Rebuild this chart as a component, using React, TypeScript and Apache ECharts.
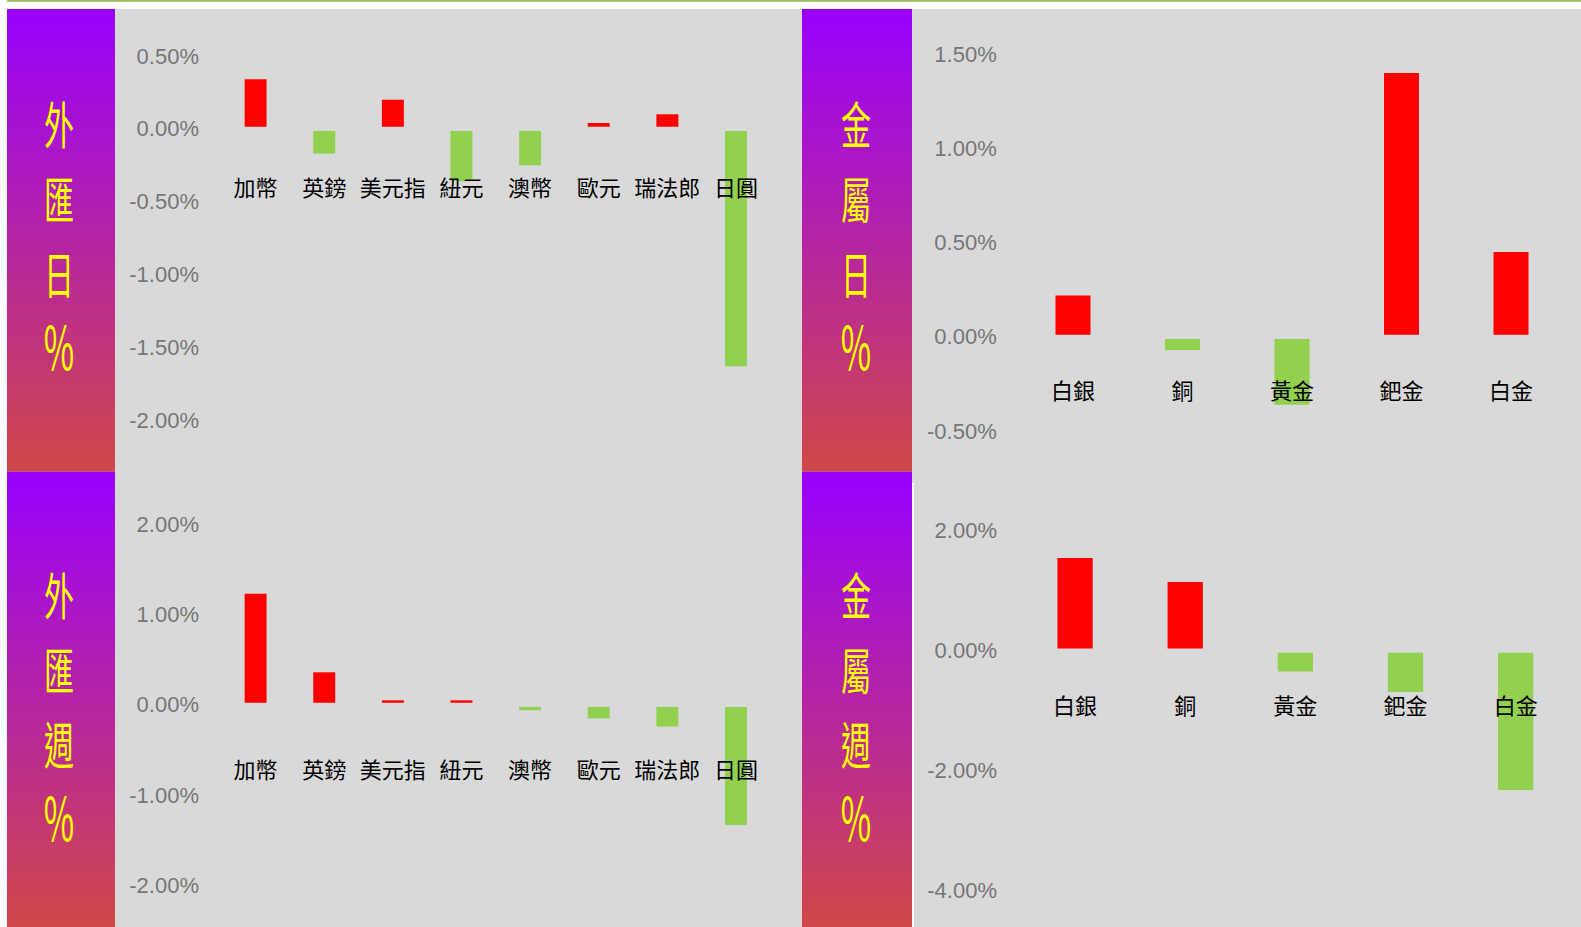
import React, { useEffect, useRef } from "react";
import * as echarts from "echarts";

// ---------- data ----------
const fxCategories = ["加幣", "英鎊", "美元指", "紐元", "澳幣", "歐元", "瑞法郎", "日圓"];
const fxDaily = [0.34, -0.17, 0.2, -0.36, -0.25, 0.04, 0.1, -1.63];
const fxWeekly = [1.23, 0.36, 0.05, 0.05, -0.06, -0.15, -0.24, -1.33];

const metalCategories = ["白銀", "銅", "黃金", "鈀金", "白金"];
const metalDaily = [0.22, -0.07, -0.36, 1.4, 0.45];
const metalWeekly = [1.54, 1.14, -0.35, -0.69, -2.32];

const panelTitles = [
  ["外", "匯", "日", "%"],
  ["金", "屬", "日", "%"],
  ["外", "匯", "週", "%"],
  ["金", "屬", "週", "%"],
];

// axis ranges [min, max, interval]
const fxDailyAxis = [-2, 0.5, 0.5];
const metalDailyAxis = [-0.5, 1.5, 0.5];
const fxWeeklyAxis = [-2, 2, 1];
const metalWeeklyAxis = [-4, 2, 2];

const RED = "#ff0000";
const GREEN = "#92d050";
const GAP_HALF = 2.1;

const W = 1581;
const H = 927;

function barRender(params: any, api: any) {
  const cat = api.value(0);
  const v = api.value(1);
  const base = api.coord([cat, 0]);
  const end = api.coord([cat, v]);
  const bw = api.size([1, 0])[0] * 0.32;
  let y0: number, y1: number;
  if (v >= 0) {
    y0 = end[1];
    y1 = base[1] - GAP_HALF;
  } else {
    y0 = base[1] + GAP_HALF;
    y1 = end[1];
  }
  return {
    type: "rect",
    shape: { x: base[0] - bw / 2, y: y0, width: bw, height: Math.max(0, y1 - y0) },
    style: { fill: v >= 0 ? RED : GREEN },
  };
}

const gradient = () =>
  new echarts.graphic.LinearGradient(0, 0, 0, 1, [
    { offset: 0, color: "#9900ff" },
    { offset: 1, color: "#d04848" },
  ]);

export default function App() {
  const ref = useRef<HTMLDivElement>(null);

  useEffect(() => {
    if (!ref.current) return;
    const chart = echarts.init(ref.current, undefined, { renderer: "svg" });

    const grids = [
      { left: 221.3, top: 56.0, width: 549, height: 364.25 },
      { left: 1018.25, top: 54.1, width: 547.5, height: 377.0 },
      { left: 221.3, top: 524.05, width: 549, height: 361.6 },
      { left: 1020, top: 530.4, width: 550.7, height: 360.4 },
    ];
    const axes = [fxDailyAxis, metalDailyAxis, fxWeeklyAxis, metalWeeklyAxis];
    const cats = [fxCategories, metalCategories, fxCategories, metalCategories];
    const datas = [fxDaily, metalDaily, fxWeekly, metalWeekly];
    const yMargins = [22.3, 21.5, 22.3, 23];
    const yPads = [
      [0, 0, 6.4, 0],
      [0, 0, 8.7, 0],
      [2.3, 0, 0, 0],
      [0, 0, 9.8, 0],
    ];
    // category labels sit below the zero line; measured from the grid's bottom edge
    const labelCenters = [186, 389, 767.5, 704];
    const xMargins = grids.map((g, i) => labelCenters[i] - (g.top + g.height));

    const graphics: any[] = [
      { type: "rect", shape: { x: 7, y: 0, width: W - 7, height: 1.7 }, style: { fill: "#9bbb59" }, z: -10 },
      { type: "rect", shape: { x: 7, y: 9, width: W - 7, height: H - 9 }, style: { fill: "#d9d9d9" }, z: -10 },
    ];
    const bars = [
      { x: 7, y: 9, w: 108, h: 462.7 },
      { x: 802, y: 9, w: 110, h: 462.7 },
      { x: 7, y: 471.7, w: 108, h: H - 471.7 },
      { x: 802, y: 471.7, w: 110, h: H - 471.7 },
    ];
    const charX = [59, 856, 59, 856];
    const charYs = [
      [122.5, 197.3, 271.7, 344],
      [122.5, 197.3, 271.7, 344],
      [593.3, 668.3, 742, 815],
      [593.3, 668.3, 742, 815],
    ];
    bars.forEach((b, i) => {
      graphics.push({
        type: "rect",
        shape: { x: b.x, y: b.y, width: b.w, height: b.h },
        style: { fill: gradient() },
        z: -5,
      });
      panelTitles[i].forEach((ch, j) => {
        const isPct = ch === "%";
        graphics.push({
          type: "text",
          x: charX[i],
          y: charYs[i][j],
          scaleX: isPct ? 0.55 : 0.6,
          style: {
            text: ch,
            fill: "#ffff00",
            fontSize: isPct ? 60 : 50,
            fontFamily: "'Noto Sans CJK TC', sans-serif",
            align: "center",
            verticalAlign: "middle",
          },
          z: 10,
        });
      });
    });
    graphics.push({
      type: "rect",
      shape: { x: 912, y: 483, width: 2, height: H - 483 },
      style: { fill: "#ffffff" },
      z: -4,
    });

    const option: any = {
      animation: false,
      backgroundColor: "#ffffff",
      graphic: { elements: graphics },
      grid: grids.map((g) => ({ ...g, containLabel: false, outerBoundsMode: "none" })),
      xAxis: grids.map((_, i) => ({
        type: "category",
        gridIndex: i,
        data: cats[i],
        position: "bottom",
        z: 10,
        axisLine: { show: false, onZero: false },
        axisTick: { show: false },
        splitLine: { show: false },
        axisLabel: {
          interval: 0,
          margin: xMargins[i],
          verticalAlign: "middle",
          color: "#000000",
          fontSize: 22,
          fontFamily: "'Noto Sans CJK TC', sans-serif",
        },
      })),
      yAxis: grids.map((_, i) => ({
        type: "value",
        gridIndex: i,
        min: axes[i][0],
        max: axes[i][1],
        interval: axes[i][2],
        axisLine: { show: false },
        axisTick: { show: false },
        splitLine: { show: false },
        axisLabel: {
          margin: yMargins[i],
          color: "#767676",
          fontSize: 22,
          fontFamily: "'Liberation Sans', Arial, sans-serif",
          verticalAlign: "middle",
          padding: yPads[i],
          formatter: (v: number) => v.toFixed(2) + "%",
        },
      })),
      series: grids.map((_, i) => ({
        type: "custom",
        xAxisIndex: i,
        yAxisIndex: i,
        renderItem: barRender,
        encode: { x: 0, y: 1 },
        data: datas[i].map((v, k) => [k, v]),
        z: 2,
      })),
    };

    chart.setOption(option);
    return () => chart.dispose();
  }, []);

  return (
    <div
      ref={ref}
      style={{ position: "fixed", left: 0, top: 0, width: W, height: H }}
    />
  );
}
